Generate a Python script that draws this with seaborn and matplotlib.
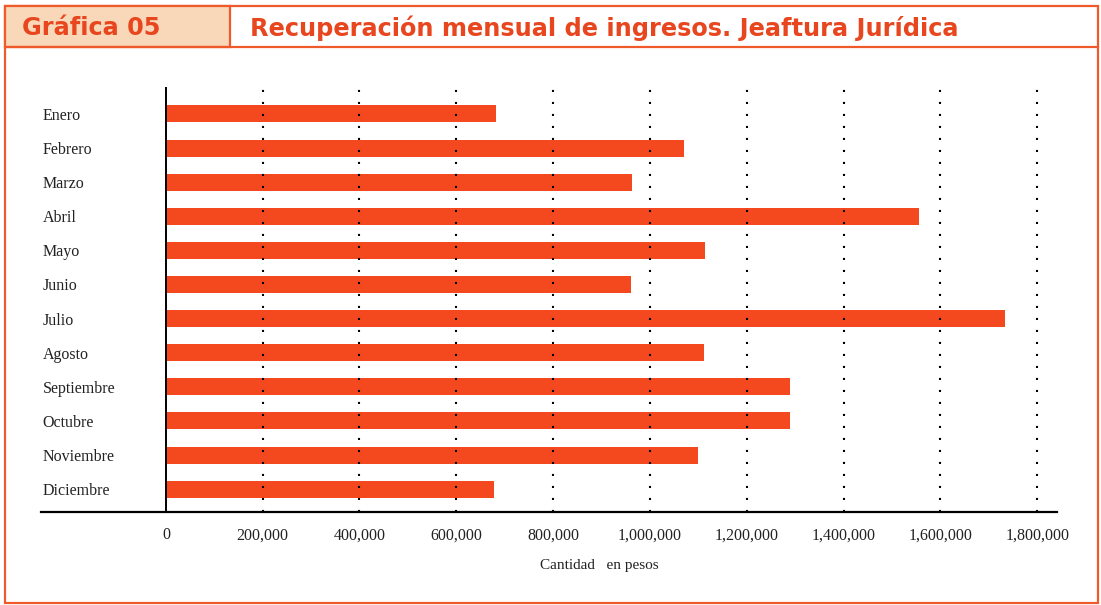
import pandas as pd
import seaborn as sns
import matplotlib.pyplot as plt
from matplotlib.patches import Rectangle
from matplotlib.lines import Line2D

# monthly values (pesos)
meses = ['Enero', 'Febrero', 'Marzo', 'Abril', 'Mayo', 'Junio', 'Julio',
         'Agosto', 'Septiembre', 'Octubre', 'Noviembre', 'Diciembre']
montos = [681000, 1070000, 963000, 1556000, 1114000, 961000, 1733000,
          1112000, 1289000, 1289000, 1099000, 678000]
ticks = [0, 200000, 400000, 600000, 800000, 1000000, 1200000, 1400000, 1600000, 1800000]
tick_labels = ['0', '200,000', '400,000', '600,000', '800,000', '1,000,000',
               '1,200,000', '1,400,000', '1,600,000', '1,800,000']

naranja = '#f4491f'
borde = '#ef5a2a'
W, H = 1101, 605

sns.set_style('white')
plt.rcParams['font.family'] = ['Liberation Serif', 'DejaVu Serif']

fig = plt.figure(figsize=(W / 100, H / 100), dpi=100)
ax = fig.add_axes([41 / W, (H - 512) / H, (1057 - 41) / W, (512 - 87) / H])

df = pd.DataFrame({'mes': meses, 'monto': montos})
sns.barplot(data=df, x='monto', y='mes', color=naranja, width=0.5,
            saturation=1, linewidth=0, ax=ax, zorder=2)

ax.set_xlim(-258000, 1841000)
ax.set_ylim(11.67, -0.79)
ax.set_xticks(ticks)
ax.set_xticklabels(tick_labels, fontsize=11.5, color='#222222')
ax.set_yticks(range(len(meses)))
ax.set_yticklabels(meses, fontsize=11.5, color='#222222', ha='left')
ax.tick_params(axis='x', length=0, pad=11)
ax.tick_params(axis='y', length=0, pad=-1)
ax.set_xlabel('')
ax.set_ylabel('')

for s in ['top', 'right', 'left']:
    ax.spines[s].set_visible(False)
ax.spines['bottom'].set_color('black')
ax.spines['bottom'].set_linewidth(1.6)

# vertical axis at zero and dotted grid over bars
ax.axvline(0, color='black', lw=1.4, zorder=4)
for t in ticks[1:]:
    ax.axvline(t, color='black', lw=1.5, linestyle=(0, (1, 4.76)), zorder=3)

fig.text(599 / W, 1 - 566 / H, 'Cantidad   en pesos', ha='center', va='center',
         fontsize=11, color='#222222')

# frame and header
fig.patches.append(Rectangle((5 / W, 1 - 603 / H), 1093 / W, 597 / H,
                             transform=fig.transFigure, fill=False,
                             edgecolor=borde, lw=1.6))
fig.patches.append(Rectangle((5 / W, 1 - 47 / H), 225 / W, 41 / H,
                             transform=fig.transFigure, facecolor='#f9d7b9',
                             edgecolor=borde, lw=1.6))
fig.lines.append(Line2D([5 / W, 1098 / W], [1 - 47 / H, 1 - 47 / H],
                        transform=fig.transFigure, color=borde, lw=1.6))

fig.text(22 / W, 1 - 28 / H, 'Gráfica 05', ha='left', va='center',
         fontsize=17.3, fontweight='bold', color='#e8461e', family='DejaVu Sans')
fig.text(250 / W, 1 - 28 / H, 'Recuperación mensual de ingresos. Jeaftura Jurídica',
         ha='left', va='center', fontsize=17.3, fontweight='bold',
         color='#e8461e', family='DejaVu Sans')

fig.savefig('out.png', dpi=100)
